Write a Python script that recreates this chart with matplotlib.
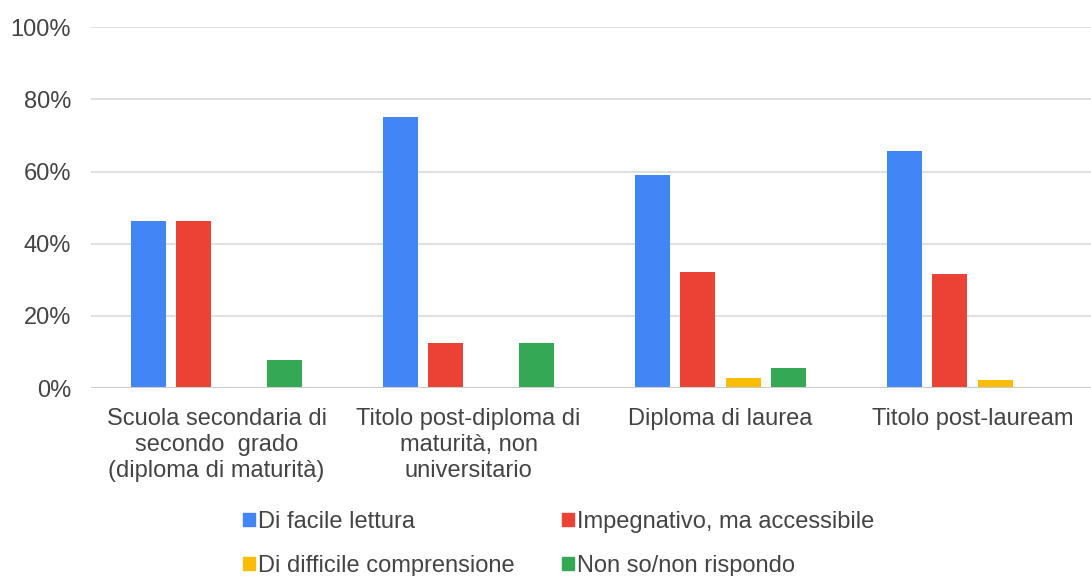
import numpy as np
import matplotlib.pyplot as plt
from matplotlib.patches import Patch

plt.rcParams['font.family'] = ['Liberation Sans', 'DejaVu Sans']

# Data
categories = ['Scuola secondaria di\nsecondo  grado\n(diploma di maturità)',
              'Titolo post-diploma di\nmaturità, non\nuniversitario',
              'Diploma di laurea',
              'Titolo post-lauream']
series_names = ['Di facile lettura', 'Impegnativo, ma accessibile',
                'Di difficile comprensione', 'Non so/non rispondo']
facile = [46.2, 75.0, 59.0, 65.8]
impegnativo = [46.2, 12.5, 32.3, 31.6]
difficile = [0.0, 0.0, 2.8, 2.3]
non_so = [7.7, 12.5, 5.6, 0.0]
colors = ['#4285f4', '#ea4335', '#fbbc04', '#34a853']

series = [facile, impegnativo, difficile, non_so]

fig = plt.figure(figsize=(10.91, 5.76), dpi=100)
ax = fig.add_axes([0.083, 0.326, 0.917, 0.627])

x = np.arange(len(categories))
step = 0.181
width = 0.139
for i, (vals, c) in enumerate(zip(series, colors)):
    ax.bar(x + (i - 1.5) * step, vals, width=width, color=c, zorder=3)

ax.set_ylim(0, 100)
ax.set_xlim(-0.5, 3.47)
ax.set_yticks([0, 20, 40, 60, 80, 100])
ax.set_yticklabels([f'{v}%' for v in [0, 20, 40, 60, 80, 100]])
ax.set_xticks(x)
ax.set_xticklabels(categories, linespacing=1.25)
ax.tick_params(axis='both', length=0, labelsize=17, labelcolor='#444444')
ax.tick_params(axis='y', pad=14)
ax.tick_params(axis='x', pad=14)
ax.grid(axis='y', color='#d9d9d9', linewidth=1.2, zorder=0)
for s in ax.spines.values():
    s.set_visible(False)
ax.axhline(0, color='#cccccc', linewidth=1.5, zorder=4)

# legend fills column-wise, so reorder to read row-wise
order = [0, 2, 1, 3]
handles = [Patch(color=colors[i]) for i in order]
labels = [series_names[i] for i in order]
fig.legend(handles, labels, loc='lower left', bbox_to_anchor=(0.203, -0.038),
           ncol=2, frameon=False, fontsize=17, labelcolor='#444444',
           handlelength=0.5, handleheight=0.5, handletextpad=0.15,
           columnspacing=2.0, labelspacing=0.92)

fig.savefig('out.png', dpi=100)
